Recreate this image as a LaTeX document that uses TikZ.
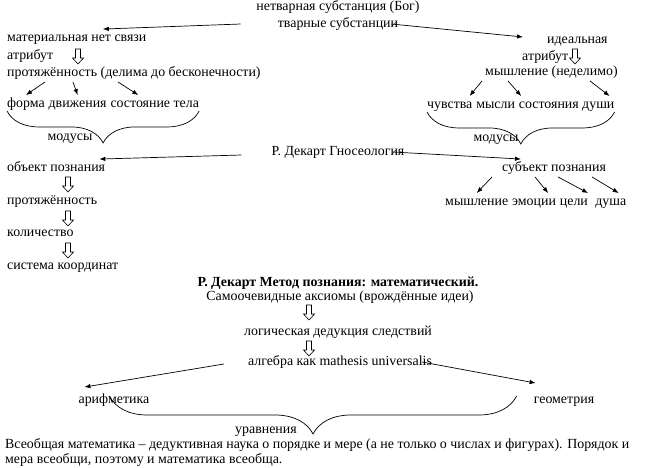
\documentclass[tikz,border=0pt]{standalone}
\usepackage{fontspec}
\setmainfont{Liberation Serif}
\usetikzlibrary{arrows.meta,positioning,decorations.pathreplacing,calc}

\tikzset{
  hollow/.pic={\draw[line width=0.6pt, line join=miter] (-2.5,0) -- (2.5,0) -- (2.5,9) -- (5.5,9) -- (0,15) -- (-5.5,9) -- (-2.5,9) -- cycle;}
}

\begin{document}
\begin{tikzpicture}[x=1pt, y=-1pt,
    every node/.style={font=\fontsize{13.9}{17}\selectfont, inner xsep=0pt, inner ysep=2pt, text height=10pt, text depth=3.5pt},
    word/.style={anchor=west},
    link/.style={-{Latex[length=6pt,width=4.5pt]}, line width=0.7pt},
    curly/.style={decorate, decoration={brace, mirror, amplitude=#1}, line width=0.7pt},
    node distance=3.5pt
  ]
    \useasboundingbox (0,0) rectangle (646,467);

    \node (god) at (338,7) {нетварная субстанция (Бог)};
    \node (tvar) at (338,24) {тварные субстанции};

    \node[word] (mat) at (7,38) {материальная нет связи};
    \node[word] (attrL) at (7,56) {атрибут};
    \node[word] (extL) at (7,73) {протяжённость (делима до бесконечности)};
    \node[word] (forma) at (7,104) {форма};
    \node[word, right=of forma] (motion) {движения};
    \node[word, right=of motion] (stateB) {состояние тела};
    \node (modL) at (70,137) {модусы};

    \node[word] (ideal) at (547,40) {идеальная};
    \node[word] (attrR) at (522,57) {атрибут};
    \node[word] (thinkR) at (485,72) {мышление (неделимо)};
    \node[word] (feel) at (427,105) {чувства};
    \node[word, right=of feel] (thoughts) {мысли};
    \node[word, right=of thoughts] (stateS) {состояния души};
    \node (modR) at (496,138) {модусы};

    \node (gnos) at (338,152) {Р. Декарт Гносеология};
    \node[word] (obj) at (7,168) {объект познания};
    \node[word] (ext2) at (7,201) {протяжённость};
    \node[word] (qty) at (7,233) {количество};
    \node[word] (coord) at (7,266) {система координат};
    \node[word] (subj) at (502,168) {субъект познания};
    \node[word] (thinkB) at (445,202) {мышление};
    \node[word, right=of thinkB] (emo) {эмоции};
    \node[word, right=of emo] (goals) {цели};
    \node[word, right=7pt of goals] (soul) {душа};

    \node[font=\fontsize{13.9}{17}\selectfont\bfseries] (meth) at (338,283) {Р. Декарт Метод познания: математический.};
    \node (axi) at (340,297) {Самоочевидные аксиомы (врождённые идеи)};
    \node (ded) at (338,332) {логическая дедукция следствий};
    \node (alg) at (340,362) {алгебра как mathesis universalis};
    \node (arith) at (114,400) {арифметика};
    \node (geom) at (564,400) {геометрия};
    \node (eq) at (266,430) {уравнения};
    \node[word] (par1) at (5,445) {Всеобщая математика – дедуктивная наука о порядке и мере (а не только о числах и фигурах). Порядок и};
    \node[word] (par2) at (5,460) {мера всеобщи, поэтому и математика всеобща.};

    \pic at (78,49) {hollow};
    \pic at (575,49) {hollow};
    \pic at (68,177) {hollow};
    \pic at (68,211) {hollow};
    \pic at (68,243) {hollow};
    \pic at (309,305) {hollow};
    \pic at (309,341) {hollow};

    \draw[link] ([xshift=-37pt]tvar.west) -- ([xshift=26pt]mat.north);
    \draw[link] ([xshift=-7pt]tvar.east) -- ([xshift=-24pt, yshift=3pt]ideal.west);
    \draw[link] ([xshift=38pt]extL.south west) -- (forma.north);
    \draw[link] ([xshift=66pt]extL.south west) -- (motion.north);
    \draw[link] ([xshift=111pt]extL.south west) -- ([xshift=28pt]stateB.north west);
    \draw[curly=32pt] ([yshift=2pt]forma.south west) -- ([yshift=2pt]stateB.south east);

    \draw[link] ([xshift=-3pt]thinkR.south west) -- ([xshift=-3pt]feel.north east);
    \draw[link] ([xshift=23pt]thinkR.south west) -- ([xshift=6pt]thoughts.north east);
    \draw[link] ([xshift=105pt]thinkR.south west) -- ([xshift=-5pt]stateS.north east);
    \draw[curly=32pt] ([yshift=2pt]feel.south west) -- ([yshift=2pt]stateS.south east);

    \draw[link] ([xshift=-30pt, yshift=-3pt]gnos.west) -- ([xshift=-6pt]obj.north east);
    \draw[link] ([xshift=-12pt]gnos.east) -- ([xshift=19pt]subj.north west);
    \draw[link] ([xshift=-10pt]subj.south west) -- (thinkB.north);
    \draw[link] ([xshift=33pt]subj.south west) -- ([xshift=-8pt]emo.north east);
    \draw[link] ([xshift=56pt]subj.south west) -- (goals.north east);
    \draw[link] ([xshift=90pt]subj.south west) -- ([xshift=8pt]soul.north);

    \draw[link] ([xshift=-24pt, yshift=-2pt]alg.west) -- ([xshift=6pt, yshift=4pt]arith.north west);
    \draw[link] ([xshift=-10pt]alg.east) -- ([xshift=2pt, yshift=8pt]geom.north west);
    \draw[curly=38pt] ([xshift=31pt, yshift=4pt]arith.west) -- ([xshift=-17pt, yshift=4pt]geom.west);
\end{tikzpicture}
\end{document}
